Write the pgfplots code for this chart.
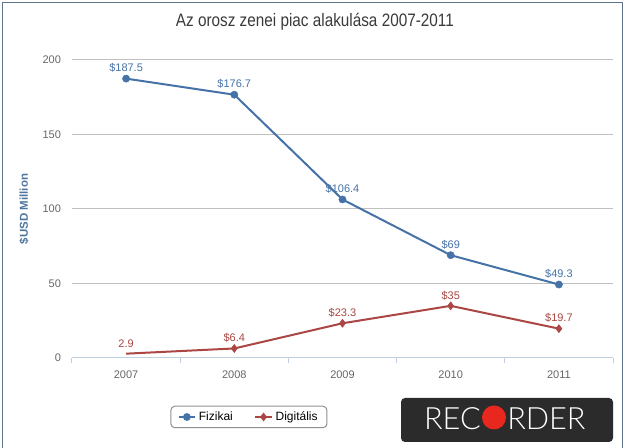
\documentclass[border=0pt]{standalone}
\usepackage{graphicx}
\usepackage{pgfplots}
\pgfplotsset{compat=1.18}
\usepackage{fontspec}
\setmainfont{Liberation Sans}
\newfontfamily\latolight{Lato}[UprightFont={* Light}]
\definecolor{hcblue}{HTML}{4572A7}
\definecolor{hcred}{HTML}{AA4643}
\definecolor{titlecol}{HTML}{3A3A3A}
\definecolor{labcol}{HTML}{4D759E}
\definecolor{tickcol}{HTML}{666666}
\definecolor{gridcol}{HTML}{C0C0C0}
\definecolor{axiscol}{HTML}{C0D0E0}
\definecolor{logobg}{HTML}{2B2B2B}
\definecolor{logored}{HTML}{E8271F}
\definecolor{framecol}{HTML}{5F7488}
\definecolor{legcol}{HTML}{909090}
\pgfplotstableread{
x y lab
0 187.5 \$187.5
1 176.7 \$176.7
2 106.4 \$106.4
3 69 \$69
4 49.3 \$49.3
}\fizikai
\pgfplotstableread{
x y lab
0 2.9 2.9
1 6.4 \$6.4
2 23.3 \$23.3
3 35 \$35
4 19.7 \$19.7
}\digitalis
\begin{document}
\begin{tikzpicture}
\begin{scope}[x=0.75pt,y=-0.75pt,shift={(-54pt,268.5pt)}]
\useasboundingbox (0,0) rectangle (625,448);
\draw[framecol, line width=0.75pt] (3,452) -- (3,3) -- (622,3) -- (622,452);
\end{scope}
\begin{axis}[
  scale only axis, width=405.75pt, height=223.5pt,
  xmin=-0.5, xmax=4.5, ymin=0, ymax=200,
  xtick={-0.5,0.5,1.5,2.5,3.5,4.5},
  xticklabels={2007,2008,2009,2010,2011},
  x tick label as interval,
  ytick={0,50,100,150,200},
  axis x line*=bottom, axis y line*=left,
  y axis line style={draw=none},
  x axis line style={draw=axiscol, line width=0.75pt},
  xtick style={draw=axiscol, line width=0.75pt},
  ytick style={draw=none},
  major tick length=3.75pt, tick align=outside,
  ymajorgrids, xmajorgrids=false,
  grid style={gridcol, line width=0.75pt},
  tick label style={font=\fontsize{8.25}{10}\selectfont, text=tickcol},
  /pgf/number format/assume math mode=true,
  xticklabel style={yshift=-2pt},
  yticklabel style={xshift=-1pt},
  clip=false,
  title={\scalebox{0.85}[1]{Az orosz zenei piac alakulása 2007-2011}},
  title style={at={(axis description cs:0.449,1.1007)}, anchor=center,
    font=\fontsize{13.5}{16}\selectfont, text=titlecol},
  ylabel={\$USD Million},
  ylabel style={at={(axis description cs:-0.0887,0.5)}, anchor=center,
    font=\bfseries\fontsize{8.6}{10}\selectfont, text=labcol},
  legend columns=2,
  legend style={at={(axis description cs:0.327,-0.198)}, anchor=center,
    draw=legcol, rounded corners=3pt, line width=0.75pt,
    font=\fontsize{9}{11}\selectfont, text=black,
    inner xsep=5pt, inner ysep=2pt,
    /tikz/every even column/.append style={column sep=14pt}},
  legend image code/.code={
    \draw[#1, mark indices={2}] plot coordinates {(0cm,0cm) (0.22cm,0cm) (0.44cm,0cm)};},
]
\addplot[hcblue, line width=1.5pt, mark=*, mark size=2.7pt,
  mark options={line width=0.4pt, fill=hcblue},
  nodes near coords, point meta=explicit symbolic,
  every node near coord/.append style={font=\fontsize{8.25}{10}\selectfont, text=hcblue, yshift=1pt}]
  table[x=x, y=y, meta=lab]{\fizikai};
\addlegendentry{Fizikai}
\addplot[hcred, line width=1.5pt, mark=diamond*, mark size=3pt,
  mark options={line width=0.4pt, fill=hcred}, mark indices={2,3,4,5},
  nodes near coords, point meta=explicit symbolic,
  every node near coord/.append style={font=\fontsize{8.25}{10}\selectfont, text=hcred, yshift=1pt}]
  table[x=x, y=y, meta=lab]{\digitalis};
\addlegendentry{Digitális}
\addplot[draw=none, mark=none, forget plot,
  nodes near coords, point meta=explicit symbolic,
  every node near coord/.append style={font=\fontsize{8.25}{10}\selectfont, text=hcred, yshift=1pt}]
  table[x=x, y=y, meta=lab, skip coords between index={1}{5}]{\digitalis};
\end{axis}
\begin{scope}[x=0.75pt,y=-0.75pt,shift={(-54pt,268.5pt)}]
\fill[logobg, rounded corners=3pt] (401,398) rectangle (613,442);
\node[anchor=base east, inner sep=0pt, text=white, font=\latolight\fontsize{23}{26}\selectfont] at (481,430) {REC};
\node[circle, fill=logored, minimum size=18pt, inner sep=0pt] at (494,417.5) {};
\node[anchor=base west, inner sep=0pt, text=white, font=\latolight\fontsize{23}{26}\selectfont] at (507,430) {RDER};
\end{scope}
\end{tikzpicture}
\end{document}
